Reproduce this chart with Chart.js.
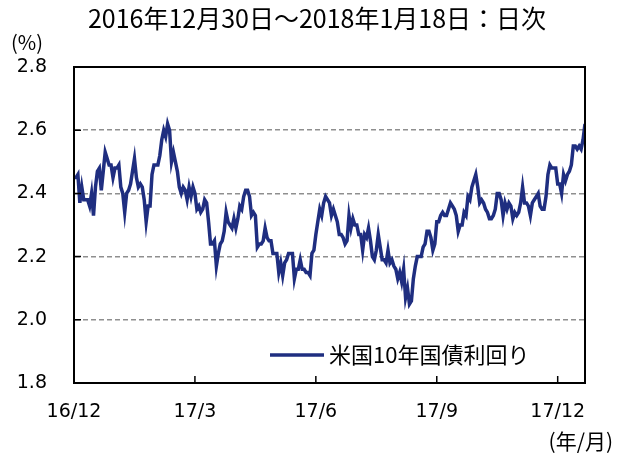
<!DOCTYPE html>
<html>
<head>
<meta charset="utf-8">
<script src="https://cdn.jsdelivr.net/npm/chart.js@4"></script>
<style>
  body { margin: 0; background: #fff; }
  #wrap { width: 630px; height: 456px; }
</style>
</head>
<body>
<div id="wrap"><canvas id="myChart" width="630" height="456"></canvas></div>
<script>
// US 10y yield, business days 2016/12/30 - 2018/1/18 (%)
const dec16 = [2.45];
const jan17 = [2.45, 2.46, 2.37, 2.42, 2.38, 2.38, 2.38, 2.36, 2.40, 2.33, 2.42, 2.47, 2.48, 2.41, 2.47, 2.53, 2.51, 2.49, 2.49, 2.45];
const feb17 = [2.48, 2.48, 2.49, 2.42, 2.40, 2.34, 2.40, 2.41, 2.43, 2.47, 2.51, 2.45, 2.42, 2.43, 2.42, 2.38, 2.31, 2.36, 2.36];
const mar17 = [2.46, 2.49, 2.49, 2.49, 2.52, 2.57, 2.60, 2.58, 2.62, 2.60, 2.50, 2.53, 2.50, 2.47, 2.42, 2.40, 2.42, 2.41, 2.38, 2.42, 2.39, 2.42, 2.40];
const apr17 = [2.35, 2.36, 2.34, 2.35, 2.38, 2.37, 2.31, 2.24, 2.24, 2.25, 2.17, 2.21, 2.24, 2.25, 2.28, 2.34, 2.31, 2.30, 2.29];
const may17 = [2.32, 2.29, 2.32, 2.36, 2.35, 2.39, 2.41, 2.41, 2.39, 2.33, 2.34, 2.33, 2.23, 2.24, 2.24, 2.25, 2.29, 2.26, 2.25, 2.25, 2.21, 2.21];
const jun17 = [2.21, 2.15, 2.18, 2.14, 2.18, 2.19, 2.21, 2.21, 2.21, 2.13, 2.16, 2.16, 2.19, 2.16, 2.16, 2.15, 2.15, 2.14, 2.21, 2.22, 2.27, 2.31];
const jul17 = [2.35, 2.33, 2.37, 2.39, 2.38, 2.37, 2.33, 2.35, 2.33, 2.31, 2.27, 2.27, 2.26, 2.24, 2.25, 2.33, 2.29, 2.32, 2.30, 2.30];
const aug17 = [2.27, 2.27, 2.22, 2.27, 2.26, 2.29, 2.25, 2.20, 2.19, 2.22, 2.27, 2.23, 2.19, 2.19, 2.18, 2.22, 2.18, 2.19, 2.17, 2.16, 2.13, 2.15, 2.12];
const sep17 = [2.16, 2.07, 2.10, 2.05, 2.06, 2.13, 2.17, 2.20, 2.20, 2.20, 2.23, 2.24, 2.28, 2.28, 2.26, 2.22, 2.24, 2.31, 2.31, 2.33];
const oct17 = [2.34, 2.33, 2.33, 2.35, 2.37, 2.36, 2.35, 2.33, 2.28, 2.30, 2.30, 2.34, 2.33, 2.39, 2.38, 2.42, 2.44, 2.46, 2.42, 2.37, 2.38];
const nov17 = [2.37, 2.35, 2.34, 2.32, 2.32, 2.33, 2.35, 2.40, 2.40, 2.38, 2.33, 2.37, 2.35, 2.37, 2.36, 2.32, 2.34, 2.33, 2.34, 2.37, 2.42];
const dec17 = [2.37, 2.37, 2.36, 2.33, 2.37, 2.38, 2.39, 2.40, 2.36, 2.35, 2.35, 2.39, 2.46, 2.49, 2.48, 2.48, 2.48, 2.43, 2.43, 2.40];
const jan18 = [2.46, 2.44, 2.46, 2.47, 2.49, 2.55, 2.55, 2.54, 2.55, 2.54, 2.57, 2.62];

const yields = [].concat(dec16, jan17, feb17, mar17, apr17, may17, jun17, jul17, aug17, sep17, oct17, nov17, dec17, jan18);

// x tick labels and the data index they sit on
const tickLabels = ["16/12", "17/3", "17/6", "17/9", "17/12"];
const tickIdx = [0, 62, 124, 186, 248];

const yTicks = [1.8, 2.0, 2.2, 2.4, 2.6, 2.8];

const seriesName = "米国10年国債利回り";
const titleText = "2016年12月30日～2018年1月18日：日次";

const axisFont = { family: "'DejaVu Sans', Verdana, sans-serif", size: 19 };
const jpFont = "'Noto Sans CJK JP', sans-serif";
const lineColor = "#1f2e80";

// frame, inside tick marks, title, unit labels and legend
const extras = {
  id: "extras",
  afterDatasetsDraw(chart) {
    const { ctx, chartArea: a, scales } = chart;
    ctx.save();
    ctx.strokeStyle = "#000";
    ctx.lineWidth = 1.5;
    ctx.beginPath();
    scales.x.ticks.forEach((t) => {
      const x = scales.x.getPixelForValue(t.value);
      ctx.moveTo(x, a.bottom);
      ctx.lineTo(x, a.bottom - 7);
    });
    scales.y.ticks.forEach((t) => {
      const y = scales.y.getPixelForValue(t.value);
      ctx.moveTo(a.left, y);
      ctx.lineTo(a.left + 7, y);
    });
    ctx.stroke();
    ctx.lineWidth = 2;
    ctx.strokeRect(a.left, a.top, a.right - a.left, a.bottom - a.top);

    ctx.fillStyle = "#000";
    ctx.textBaseline = "middle";

    // title
    ctx.font = "25px " + jpFont;
    ctx.textAlign = "center";
    ctx.fillText(titleText, 317, 18);

    // legend inside plot
    const ly = a.bottom - 28;
    ctx.strokeStyle = lineColor;
    ctx.lineWidth = 3.5;
    ctx.beginPath();
    ctx.moveTo(270, ly);
    ctx.lineTo(324, ly);
    ctx.stroke();
    ctx.font = "22px " + jpFont;
    ctx.textAlign = "left";
    ctx.fillText(seriesName, 329, ly);

    // units
    ctx.font = "20px " + jpFont;
    ctx.fillText("(%)", 11, 42);
    ctx.textAlign = "right";
    ctx.font = "21px " + jpFont;
    ctx.fillText("(年/月)", 613, 441);
    ctx.restore();
  },
};

new Chart(document.getElementById("myChart").getContext("2d"), {
  type: "line",
  data: {
    datasets: [
      {
        label: seriesName,
        data: yields.map((v, i) => ({ x: i, y: v })),
        borderColor: lineColor,
        borderWidth: 3.5,
        pointRadius: 0,
        tension: 0,
        fill: false,
      },
    ],
  },
  options: {
    responsive: false,
    animation: false,
    layout: { padding: { left: 0, right: 45, top: 67, bottom: 0 } },
    plugins: {
      legend: { display: false },
      tooltip: { enabled: false },
      title: { display: false },
    },
    scales: {
      x: {
        type: "linear",
        min: 0,
        max: yields.length - 1,
        offset: false,
        afterBuildTicks: (scale) => {
          scale.ticks = tickIdx.map((v) => ({ value: v }));
        },
        afterFit: (scale) => {
          scale.height = 73;
        },
        grid: { display: false, drawTicks: false },
        border: { display: true, color: "#000", width: 2 },
        ticks: {
          color: "#000",
          font: axisFont,
          padding: 18,
          maxRotation: 0,
          autoSkip: false,
          callback: (v) => tickLabels[tickIdx.indexOf(v)],
        },
      },
      y: {
        min: 1.8,
        max: 2.8,
        afterBuildTicks: (scale) => {
          scale.ticks = yTicks.map((v) => ({ value: v }));
        },
        afterFit: (scale) => {
          scale.width = 74;
        },
        grid: {
          color: "#8f8f8f",
          lineWidth: 1.5,
          drawTicks: false,
        },
        border: { display: true, color: "#000", width: 2, dash: [5, 3] },
        ticks: {
          color: "#000",
          font: axisFont,
          padding: 27,
          callback: (v) => v.toFixed(1),
        },
      },
    },
  },
  plugins: [extras],
});
</script>
</body>
</html>
